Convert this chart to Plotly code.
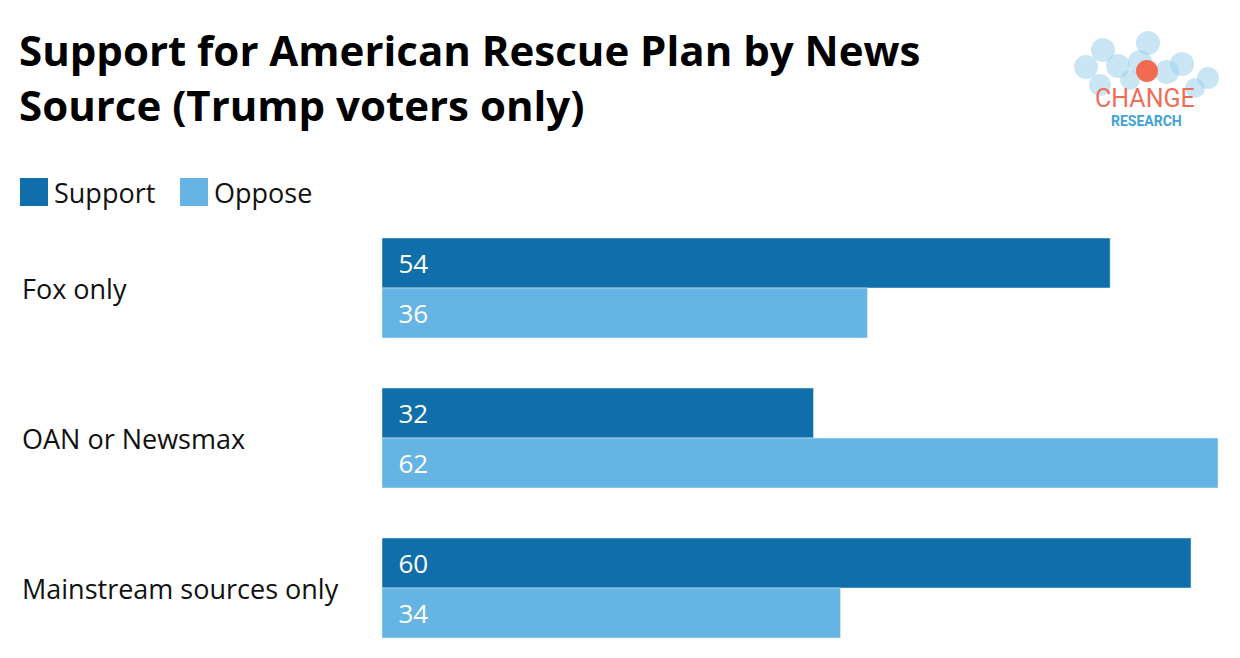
import plotly.graph_objects as go

categories = ["Fox only", "OAN or Newsmax", "Mainstream sources only"]
support = [54, 32, 60]
oppose = [36, 62, 34]

DARK = "#106EAB"
LIGHT = "#66B4E3"
FONT = "Open Sans"

W, H = 1240, 658
OFF = 8  # page offset seen in screenshot
L, R, T, B = 382 - OFF, 22 + OFF, 213 - OFF, 0
PW, PH = W - L - R, H - T - B


def px(x):
    return (x - OFF - L) / PW


def py(y):
    return (H - B - (y - OFF)) / PH


fig = go.Figure()
for name, vals, col in [("Support", support, DARK), ("Oppose", oppose, LIGHT)]:
    fig.add_trace(go.Bar(y=categories, x=vals, orientation="h", name=name,
                         marker_color=col, texttemplate="\u00a0\u00a0%{x}", textposition="inside",
                         insidetextanchor="start",
                         textfont=dict(color="white", size=26, family=FONT)))

ann = []
ann.append(dict(x=px(17), y=py(19), xref="paper", yref="paper", xanchor="left", yanchor="top",
                align="left", showarrow=False,
                text="<b>Support for American Rescue Plan by News<br>Source (Trump voters only)</b>",
                font=dict(size=42, color="black", family=FONT)))
for c in categories:
    ann.append(dict(x=px(20), y=c, xref="paper", yref="y", xanchor="left", yanchor="middle",
                    showarrow=False, text=c, font=dict(size=27, color="#111", family=FONT)))

shapes = []
for x0, col, name in [(20, DARK, "Support"), (180, LIGHT, "Oppose")]:
    shapes.append(dict(type="rect", xref="paper", yref="paper", x0=px(x0), x1=px(x0 + 28),
                       y0=py(206), y1=py(178), fillcolor=col, line_width=0))
    ann.append(dict(x=px(x0 + 32), y=py(192), xref="paper", yref="paper", xanchor="left",
                    yanchor="middle", showarrow=False, text=name,
                    font=dict(size=27, color="#111", family=FONT)))

# logo
for cx, cy, r in [(1103, 50, 12), (1086, 67, 12), (1118, 66, 12), (1148, 43, 12),
                  (1140, 62, 12), (1167, 72, 12), (1182, 64, 12), (1208, 78, 11),
                  (1100, 85, 11), (1195, 88, 10), (1130, 80, 10)]:
    shapes.append(dict(type="circle", xref="paper", yref="paper", x0=px(cx - r), x1=px(cx + r),
                       y0=py(cy + r), y1=py(cy - r), fillcolor="rgba(150,205,235,0.5)", line_width=0))
shapes.append(dict(type="circle", xref="paper", yref="paper", x0=px(1136), x1=px(1158),
                   y0=py(82), y1=py(60), fillcolor="#F26B50", line_width=0))
ann.append(dict(x=px(1145), y=py(98), xref="paper", yref="paper", showarrow=False,
                xanchor="center", yanchor="middle",
                text="CHANGE", font=dict(size=25, color="#EE6E5A", family="Roboto")))
ann.append(dict(x=px(1146), y=py(121), xref="paper", yref="paper", showarrow=False,
                xanchor="center", yanchor="middle",
                text="<b>RESEARCH</b>", font=dict(size=14, color="#3FA3D8", family="Roboto")))

fig.update_layout(
    width=W, height=H, margin=dict(l=L, r=R, t=T, b=B),
    barmode="group", bargap=1 / 3, bargroupgap=0,
    showlegend=False, plot_bgcolor="white", paper_bgcolor="white",
    xaxis=dict(range=[0, 62], visible=False, fixedrange=True),
    yaxis=dict(range=[-0.5 + PH / 150, -0.5], showticklabels=False, showgrid=False,
               zeroline=False),
    annotations=ann, shapes=shapes,
    uniformtext=dict(minsize=26, mode="show"),
)

fig.write_html("out.html")
